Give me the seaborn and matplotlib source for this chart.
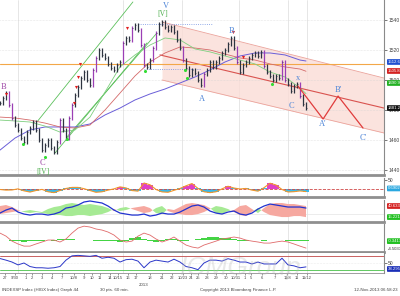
import numpy as np
import matplotlib.pyplot as plt
import seaborn as sns

# ---------------- data ----------------
# hourly closes (one value per ~3 px of the chart)
close = [1484.7, 1488, 1491.3, 1483.3, 1474.7, 1470, 1466.7, 1461.3, 1458.7, 1465.3,
         1468, 1472, 1466.7, 1460, 1453.3, 1456.7, 1460, 1454.7, 1452, 1458.7,
         1473.3, 1466.7, 1461.3, 1474.7, 1483.3, 1490, 1495.3, 1501.3, 1505.3, 1500,
         1496.7, 1506.7, 1514.7, 1520, 1516.7, 1514.7, 1510.7, 1508, 1506.7, 1510,
         1512, 1524.7, 1528, 1526.7, 1534.7, 1536.7, 1533.3, 1523.3, 1510, 1508.7,
         1513.3, 1521.3, 1531.3, 1537.3, 1538.7, 1535.3, 1533.3, 1535.3, 1532, 1526.7,
         1521.3, 1513.3, 1508, 1503.3, 1506.7, 1504.7, 1500, 1496.7, 1504, 1506.7,
         1512, 1508.7, 1512, 1514.7, 1518, 1520, 1524, 1528, 1521.3, 1512,
         1505.3, 1510, 1512, 1514.7, 1516.7, 1518, 1516, 1518.7, 1509.3, 1505.3,
         1502.7, 1500, 1502.7, 1501.3, 1512, 1500, 1497.3, 1492.7, 1496, 1497.3,
         1489.3, 1484, 1481.29]

# moving averages, sampled every 5 bars
ma_x = [0, 5, 10, 15, 20, 25, 30, 35, 40, 45, 50, 55, 60, 65, 70, 75, 80, 85, 90, 95, 100, 102]
ma_fast = [1473.3, 1472.7, 1472, 1469.3, 1465.3, 1466.7, 1475.3, 1492, 1508.7, 1516.7, 1523.3,
           1528, 1526.7, 1520.7, 1518.7, 1516, 1513.3, 1510.7, 1505.3, 1502, 1494.7, 1490.9]
ma_mid = [1475.3, 1474.7, 1473.3, 1471.3, 1468.7, 1468, 1470, 1480, 1491.3, 1502.7, 1512,
          1518, 1522, 1521.3, 1520, 1517.3, 1514.7, 1513.3, 1510.7, 1508.7, 1507.3, 1505.82]
ma_slow = [1453.3, 1461.3, 1466.7, 1468.7, 1468.7, 1468.7, 1470.7, 1476.7, 1481.3, 1486.7, 1490.7,
           1494, 1498, 1502, 1506.7, 1512, 1516, 1518, 1518, 1516.7, 1513.3, 1512.66]

# signal markers
sell_x = [2, 24.7, 25.3, 26, 26.7, 42.3, 77.7, 81]
sell_p = [1488.7, 1482.7, 1493.3, 1500, 1508.7, 1532.7, 1530, 1513.3]
buy_x = [7.7, 15, 22.3, 48.3, 61.7, 62.3, 90.7]
buy_p = [1458.7, 1450, 1462, 1507.3, 1508, 1502.7, 1498.7]

# trend channels (bar index, price)
up_chan_x = [[12.3, 44.3], [18.3, 49], [22.3, 52.3]]
up_chan_p = [[1472, 1552], [1451.3, 1524.7], [1462, 1531.3]]
dn_x = [54, 128]
dn_upper = [1538.7, 1501.3]
dn_lower = [1500, 1464.7]
mid_x = [53.3, 128]
mid_p = [1516.7, 1481.3]
proj_x = [99.3, 107.7, 112.7, 121]
proj_p = [1496, 1474, 1489.3, 1468]
orange_level = 1510.7

# indicator panels, sampled every 2 bars
osc_x = list(range(0, 103, 2))
osc = [-0.5, -3.8, -3, 2.8, -7.7, -14, -6, 0, -12.6, -17, -6, 5, 10.5, 10.5, 3.9, -6, -15.4,
       -12.6, -3.8, 2.8, 13.3, 7.8, -6, -9.3, 33.6, 24.3, -0.5, -13.2, -15.4, -4.9, 5, 18.8,
       30.9, 5, -12.6, -17, -12.6, 2.8, 16.6, 7.2, 2.3, 5, -3.8, -9.3, 8.9, 32.5, 23.2, -0.5,
       -13.7, -12, -8.2, -11.5]
adx = [24.5, 31.4, 36.0, 26.8, 22.2, 19.9, 22.2, 22.2, 19.9, 22.2, 26.8, 36.0, 38.3, 42.9, 49.8,
       52.1, 49.8, 47.5, 40.6, 31.4, 24.5, 22.2, 19.9, 19.9, 22.2, 17.6, 19.9, 24.5, 22.2, 22.2,
       26.8, 33.7, 40.6, 42.9, 38.3, 29.1, 24.5, 22.2, 26.8, 29.1, 22.2, 19.9, 24.5, 33.7, 40.6,
       45.2, 42.9, 40.6, 38.3, 38.3, 38.3, 36.0]
di_minus = [40.6, 42.9, 38.3, 31.4, 26.8, 24.5, 26.8, 24.5, 22.2, 19.9, 19.9, 17.6, 17.6, 19.9,
            19.9, 17.6, 19.9, 22.2, 26.8, 33.7, 29.1, 31.4, 36.0, 38.3, 40.6, 36.0, 24.5, 22.2,
            33.7, 31.4, 38.3, 45.2, 47.5, 45.2, 42.9, 36.0, 24.5, 22.2, 29.1, 31.4, 40.6, 42.9,
            33.7, 24.5, 36.0, 45.2, 47.5, 47.5, 45.2, 45.2, 42.9, 40.6]
di_plus = [22.2, 24.5, 26.8, 29.1, 29.1, 31.4, 29.1, 26.8, 33.7, 38.3, 40.6, 45.2, 47.5, 45.2,
           42.9, 45.2, 42.9, 40.6, 36.0, 29.1, 36.0, 38.3, 33.7, 29.1, 24.5, 26.8, 36.0, 40.6,
           29.1, 24.5, 22.2, 19.9, 19.9, 22.2, 26.8, 33.7, 40.6, 38.3, 33.7, 26.8, 19.9, 17.6,
           26.8, 36.0, 26.8, 19.9, 17.6, 15.3, 15.3, 17.6, 17.6, 15.2]
trend = [3.9, 2.2, -0.6, -2.2, -3.4, -3.4, -2.2, -1.1, 0, 0, -1.1, 0.6, 3.9, 6.7, 7.8, 7.3, 6.2,
         5.6, 4.5, 2.8, 0, -1.1, -0.6, 2.2, 3.9, 2.8, 0.6, -1.1, 0, 1.7, -0.6, -2.8, -3.9, -4.5,
         -2.8, -1.7, -0.6, 0.6, 1.1, 1.7, 1.1, 0, -0.6, -1.1, -1.7, -1.7, -1.1, -0.6, -1.1, -2.2,
         -3.4, -4.5]
trend_hist = [0, 0.3, -0.4, -0.8, -1.0, -0.6, -0.8, -0.5, 0.3, -0.4, 0.5, 0.8, 0.6, 0.2, 0, -0.2,
              -0.4, -0.3, -0.5, -0.8, -1.2, -0.6, 0.9, 1.6, 0.8, -0.7, -1.0, -0.3, 0.6, 0.4, -0.8,
              -0.5, 0.3, 0.6, 1.2, 1.8, 1.5, 0.9, 1.3, 0.7, -0.4, -0.6, -0.2, 0.2, -0.3, 0.1, 0.3,
              -0.2, -0.4, -0.3, -0.4, -0.34]
rsi = [63.4, 58.6, 52.9, 44.3, 50, 39.4, 35.7, 35.7, 34.3, 35.7, 39.4, 58.6, 71.5, 72.9, 71.5, 70,
       72.9, 64.3, 67.2, 64.3, 52.9, 60, 61.4, 55.7, 35.7, 52.9, 58.6, 55.7, 52.9, 61.4, 52.9,
       39.4, 35.7, 30, 50, 58.6, 58.6, 55.7, 62.9, 58.6, 52.9, 52.9, 47.1, 52.9, 47.1, 47.1, 47.1,
       64.3, 44.3, 41.4, 35.7, 38.3]

week_lines = [6, 41, 60.7, 79.7, 96, 102.3]
xt_pos = [1.7, 5, 8.7, 10.7, 14, 17.3, 20.7, 24.7, 28, 30.7, 33.3, 36.7, 39.3, 42.7, 45.3, 50, 54,
          57.3, 61, 63.7, 66, 69, 72, 75.3, 78.7, 81.7, 83.7, 87.3, 91.7, 95.7, 99, 102.3]
xt_lab = ['27', '9/30', '1', '2', '3', '4', '7', '10/8', '9', '10', '11', '14', '10/15', '16', '17',
          '18', '21', '22', '10/23', '24', '25', '28', '29', '30', '10/31', '1', '5', '6', '7',
          '11/8', '11', '11/12']

# ---------------- figure ----------------
sns.set_style("white")
plt.rcParams['font.family'] = ['Liberation Sans', 'DejaVu Sans']

fig = plt.figure(figsize=(4, 2.96), dpi=100)
H = 296.0
def box(top, bottom):
    return [0, 1 - bottom / H, 0.96, (bottom - top) / H]

ax = fig.add_axes(box(0, 175))
p2 = fig.add_axes(box(178, 197))
p3 = fig.add_axes(box(200, 222))
p4 = fig.add_axes(box(224, 252))
p5 = fig.add_axes(box(253, 273))
panels = [ax, p2, p3, p4, p5]

for a in panels:
    a.set_xlim(0, 128)
    for s in ['left', 'top']:
        a.spines[s].set_visible(False)
    a.spines['right'].set_color('#8a8a8a')
    a.spines['right'].set_linewidth(0.8)
    a.spines['bottom'].set_color('#8f8f8f')
    a.spines['bottom'].set_linewidth(2.0)
    a.yaxis.tick_right()
    a.tick_params(axis='y', labelsize=3.6, length=2, width=0.5, pad=1, colors='#444444')
    a.tick_params(axis='x', bottom=False, labelbottom=False)
    for w in week_lines:
        a.axvline(w, color='#dcdcdc', lw=0.5, zorder=0)
p5.spines['bottom'].set_linewidth(0.6)

def tag(a, y, text, fc, tc='white'):
    a.text(1.01, y, text, transform=a.get_yaxis_transform(), fontsize=3.1, color=tc,
           va='center', ha='left', clip_on=False, zorder=20,
           bbox=dict(boxstyle='round,pad=0.2', fc=fc, ec='none'))

# ---- main price panel ----
ax.set_ylim(1436.7, 1553.3)
ax.set_yticks([1440, 1460, 1480, 1500, 1520, 1540])
ax.grid(axis='y', color='#d0d0d0', lw=0.4, ls=':')

ax.fill_between(dn_x, dn_lower, dn_upper, color='#fbdcd6', alpha=0.8, lw=0, zorder=0.5)
ax.plot(dn_x, dn_upper, color='#eba39b', lw=0.6)
ax.plot(dn_x, dn_lower, color='#eba39b', lw=0.6)
ax.plot(mid_x, mid_p, color='#d9534f', lw=0.8)
for cx, cp in zip(up_chan_x, up_chan_p):
    ax.plot(cx, cp, color='#5cc05c', lw=0.6)
ax.axhline(orange_level, color='#f3a748', lw=0.8)
ax.hlines(1537.3, 46, 70.7, color='#6f8fe0', lw=0.6, ls=':')
ax.hlines(1507.3, 48, 66.7, color='#6f8fe0', lw=0.6, ls=':')

sns.lineplot(x=ma_x, y=ma_slow, ax=ax, color='#6a5ed8', lw=0.7)
sns.lineplot(x=ma_x, y=ma_mid, ax=ax, color='#d46a6a', lw=0.6)
sns.lineplot(x=ma_x, y=ma_fast, ax=ax, color='#7fcf7f', lw=0.6)

xb = np.arange(len(close))
c = np.array(close)
prev = np.r_[c[0], c[:-1]]
lo = np.minimum(prev, c) - 1.2
hi = np.maximum(prev, c) + 1.2
big = np.abs(c - prev) >= 7
ax.vlines(xb[~big], lo[~big], hi[~big], color='#2e3440', lw=0.9, zorder=4)
ax.vlines(xb[big], lo[big], hi[big], color='#9b3fb5', lw=0.9, zorder=4)
ax.hlines(c, xb, xb + 0.45, color='#2e3440', lw=0.5, zorder=4)
ax.scatter(sell_x, np.array(sell_p) + 2, marker='v', s=5, color='#e02020', lw=0, zorder=5)
ax.scatter(buy_x, np.array(buy_p) - 1.5, marker='o', s=5, color='#33dd33', lw=0, zorder=5)

ax.plot(proj_x, proj_p, color='#e03c3c', lw=0.9, zorder=5)

serif = ['Liberation Serif', 'DejaVu Serif']
blue, purple, green = '#4f86d8', '#a04aa8', '#52b052'
for tx, tp, t in [(55.3, 1549.5, 'V'), (67.3, 1487.5, 'A'), (77.3, 1532.5, 'B'),
                  (97.3, 1483, 'C'), (99.3, 1501, 'x'), (107.7, 1470.5, "A'"),
                  (112.7, 1493.5, "B'"), (121, 1461.5, "C'")]:
    ax.text(tx, tp, t, color=blue, fontsize=6, family=serif, ha='center', va='center', zorder=6)
ax.text(1.3, 1495.5, 'B', color=purple, fontsize=6, family=serif, ha='center', va='center')
ax.text(14, 1445, 'C', color=purple, fontsize=6, family=serif, ha='center', va='center')
ax.text(14.3, 1438.5, '[IV]', color=green, fontsize=5.5, family=serif, ha='center', va='center')
ax.text(54.3, 1544.3, '[V]', color=green, fontsize=5.5, family=serif, ha='center', va='center')

tag(ax, 1512.0, '1512.66', '#1f4fd0')
tag(ax, 1506.0, '1505.82', '#d42222')
tag(ax, 1498.0, '1490.90', '#22b022')
tag(ax, 1481.3, '1481.29', '#111111')

# ---- panel 2: oscillator with histogram ----
p2.set_ylim(-40, 60)
p2.set_yticks([50])
hist_c = ['#e040c8' if v > 12 else '#3ab8e8' for v in osc]
p2.bar(osc_x, osc, width=2.0, color=hist_c, lw=0)
p2.axhline(0, color='#d04848', lw=0.6, ls='--')
sns.lineplot(x=osc_x, y=osc, ax=p2, color='#f0962c', lw=0.8)
tag(p2, 5, '0.6902', '#2aa8e0')

# ---- panel 3: directional movement ----
p3.set_ylim(4, 54.4)
p3.set_yticks([])
dm = np.array(di_minus)
dp = np.array(di_plus)
p3.fill_between(osc_x, dm, dp, where=dm >= dp, interpolate=True, color='#f6a8a0', lw=0)
p3.fill_between(osc_x, dm, dp, where=dm < dp, interpolate=True, color='#a6ea94', lw=0)
p3.axhline(22, color='#e4e4e4', lw=0.5, zorder=0)
sns.lineplot(x=osc_x, y=adx, ax=p3, color='#2233d0', lw=0.9)
tag(p3, 40.6, '40.6333', '#d42222')
tag(p3, 15.3, '15.2218', '#22c022')

# ---- panel 4: trend line + histogram ----
p4.set_ylim(-6.7, 9)
p4.set_yticks([])
p4.bar(osc_x, trend_hist, width=2.0, color='#44d444', lw=0)
sns.lineplot(x=osc_x, y=trend, ax=p4, color='#e06a6a', lw=0.6)
tag(p4, -0.6, '-0.3417', '#22c022')
p4.text(1.01, -5.0, '-4.5033', transform=p4.get_yaxis_transform(), fontsize=3.1,
        color='#333333', va='center', ha='left', clip_on=False)

# ---- panel 5: RSI ----
p5.set_ylim(20, 80)
p5.set_yticks([50])
p5.axhline(70, color='#c04848', lw=0.6)
p5.axhline(30, color='#48c048', lw=0.6)
p5.axhline(50, color='#dddddd', lw=0.4, ls=':')
sns.lineplot(x=osc_x, y=rsi, ax=p5, color='#2b36c8', lw=0.7)
tag(p5, 32, '38.2953', '#1a2fb8')
p5.tick_params(axis='x', bottom=True, labelbottom=True, labelsize=3.0, length=1.5,
               width=0.4, pad=0.8, colors='#444444')
p5.set_xticks(xt_pos)
p5.set_xticklabels(xt_lab)
p5.text(47.7, -0.6, '2013', transform=p5.get_xaxis_transform(), fontsize=3.2,
        color='#444444', ha='center', va='center')

for a in panels:
    a.set_xlabel('')
    a.set_ylabel('')

# footer
fig.text(0.005, 0.018, 'INDEXSP Index (HIGX Index) Graph 44', fontsize=3.2, color='#444444')
fig.text(0.25, 0.018, '30 pts. 60 min.', fontsize=3.2, color='#444444')
fig.text(0.50, 0.018, 'Copyright 2013 Bloomberg Finance L.P.', fontsize=3.2, color='#444444')
fig.text(0.995, 0.018, '12-Nov-2013 06:58:23', fontsize=3.2, color='#444444', ha='right')
fig.text(0.45, 0.095, 'ICMGroup', fontsize=19, style='italic', color='#b8b8b8', alpha=0.3,
         ha='left', va='center')

fig.savefig('out.png', dpi=100)
